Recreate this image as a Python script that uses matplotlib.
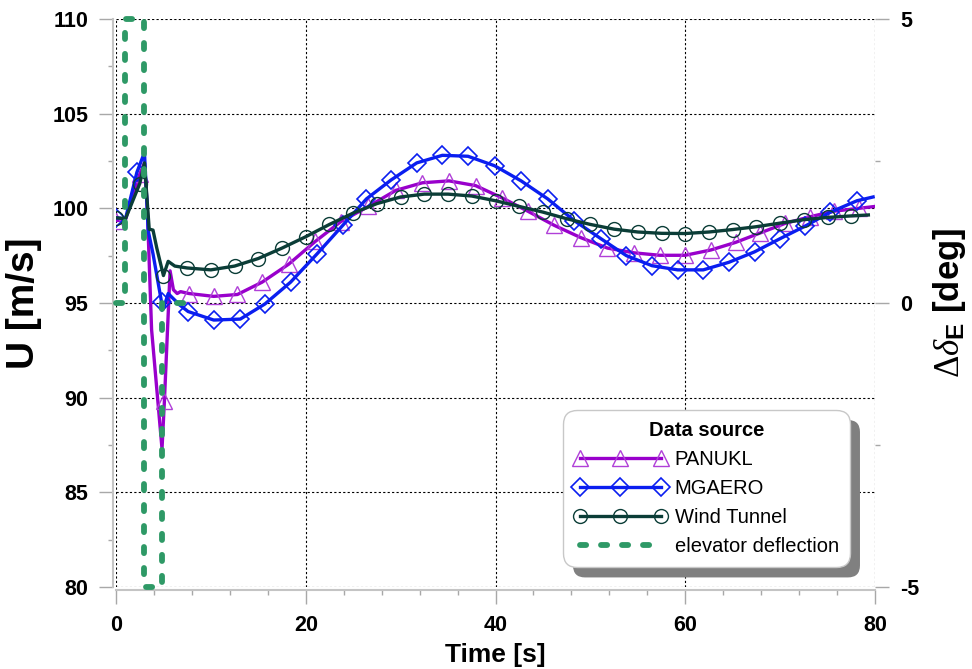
import matplotlib
matplotlib.use('Agg')
import matplotlib.pyplot as plt
from matplotlib.lines import Line2D
from matplotlib.patches import FancyBboxPatch
from matplotlib.ticker import MultipleLocator
from matplotlib.transforms import IdentityTransform

plt.rcParams['font.family'] = ['Liberation Sans', 'DejaVu Sans']
plt.rcParams['axes.unicode_minus'] = False
plt.rcParams['mathtext.fontset'] = 'custom'
plt.rcParams['mathtext.rm'] = 'Liberation Serif'
plt.rcParams['mathtext.it'] = 'Liberation Serif:italic'
plt.rcParams['mathtext.bf'] = 'Liberation Sans:bold'

# PANUKL
t_pan = [0, 1.0, 2.5, 3.0, 3.3, 3.75, 4.85, 5.1, 5.7, 6.05, 6.45, 6.8, 7.7, 10.3, 12.8,
         15.4, 18.2, 21.0, 23.7, 26.6, 29.5, 32.3, 35.1, 37.9, 40.7, 43.4, 46.2, 49.0,
         51.8, 54.6, 57.3, 60.0, 62.7, 65.3, 67.9, 70.5, 73.1, 75.7, 78.3, 80.0]
u_pan = [99.35, 99.4, 101.8, 102.4, 100.0, 93.6, 87.3, 89.8, 96.7, 95.7, 95.5, 95.6, 95.5,
         95.35, 95.45, 96.1, 97.05, 98.25, 99.3, 100.1, 100.95, 101.35, 101.45, 101.2,
         100.55, 99.85, 99.1, 98.45, 97.9, 97.65, 97.52, 97.52, 97.8, 98.2, 98.7, 99.2,
         99.55, 99.85, 100.0, 100.1]
mk_pan = [0, 2.5, 5.1, 7.7, 10.3, 12.8, 15.4, 18.2, 21.0, 23.7, 26.6, 29.5, 32.3, 35.1,
          37.9, 40.7, 43.4, 46.2, 49.0, 51.8, 54.6, 57.3, 60.0, 62.7, 65.3, 67.9, 70.5,
          73.1, 75.7, 78.3]

# MGAERO
t_mg = [0, 1.0, 2.2, 3.0, 3.4, 3.9, 4.8, 5.0, 5.5, 5.9, 6.7, 7.6, 10.3, 13.1, 15.7, 18.4,
        21.2, 23.9, 26.4, 29.0, 31.7, 34.4, 37.1, 39.9, 42.7, 45.5, 48.3, 51.1, 53.8,
        56.5, 59.2, 61.9, 64.6, 67.3, 70.0, 72.6, 75.3, 78.1, 79.8]
u_mg = [99.5, 99.45, 101.9, 102.95, 98.8, 97.6, 95.05, 94.7, 95.5, 95.3, 94.9, 94.55,
        94.1, 94.15, 94.95, 96.1, 97.6, 99.1, 100.5, 101.5, 102.4, 102.8, 102.75, 102.25,
        101.45, 100.5, 99.35, 98.4, 97.5, 96.97, 96.75, 96.75, 97.15, 97.7, 98.4, 99.05,
        99.8, 100.4, 100.6]
mk_mg = [0, 2.2, 4.8, 7.6, 10.3, 13.1, 15.7, 18.4, 21.2, 23.9, 26.4, 29.0, 31.7, 34.4,
         37.1, 39.9, 42.7, 45.5, 48.3, 51.1, 53.8, 56.5, 59.2, 61.9, 64.6, 67.3, 70.0,
         72.6, 75.3, 78.1]

# Wind Tunnel
t_wt = [0, 1.0, 2.5, 3.0, 3.5, 3.9, 4.3, 5.0, 5.5, 6.2, 7.5, 10, 12.5, 15, 17.5, 20,
        22.5, 25, 27.5, 30, 32.5, 35, 37.5, 40, 42.5, 45, 47.5, 50, 52.5, 55, 57.5, 60,
        62.5, 65, 67.5, 70, 72.5, 75, 77.5, 79.3]
u_wt = [99.5, 99.45, 101.3, 102.4, 98.9, 98.85, 97.9, 96.45, 97.2, 96.95, 96.85, 96.75,
        96.95, 97.35, 97.9, 98.5, 99.15, 99.75, 100.25, 100.6, 100.75, 100.75, 100.65,
        100.4, 100.1, 99.8, 99.45, 99.15, 98.9, 98.75, 98.68, 98.67, 98.75, 98.88, 99.03,
        99.22, 99.4, 99.52, 99.6, 99.65]
mk_wt = [0, 2.5, 5.0, 7.5, 10, 12.5, 15, 17.5, 20, 22.5, 25, 27.5, 30, 32.5, 35, 37.5,
         40, 42.5, 45, 47.5, 50, 52.5, 55, 57.5, 60, 62.5, 65, 67.5, 70, 72.5, 75, 77.5]

# elevator deflection [deg]
t_elev = [0, 0.95, 0.95, 2.9, 2.9, 4.9, 4.9, 8.0]
d_elev = [0, 0, 5, 5, -5, -5, 0, 0]

c_pan, c_mg, c_wt, c_el = '#9900cc', '#0a1ef0', '#0b3d37', '#2e9966'
mc_pan = '#b040d8'

fig = plt.figure(figsize=(9.72, 6.69), dpi=100)
ax = fig.add_axes([116 / 972, 1 - 587 / 669, 759 / 972, 568 / 669])
ax2 = ax.twinx()

def idx(ts, marks):
    return [ts.index(m) for m in marks]

st_pan = dict(color=c_pan, lw=2.4, marker='^', ms=12, mfc='none', mec=mc_pan, mew=1.0)
st_mg = dict(color=c_mg, lw=2.4, marker='D', ms=9, mfc='none', mec=c_mg, mew=1.2)
st_wt = dict(color=c_wt, lw=2.4, marker='o', ms=10, mfc='none', mec=c_wt, mew=1.0)
st_el = dict(color=c_el, lw=4.2, ls=(0, (1.05, 2.55)), dash_capstyle='round')

ax.plot(t_pan, u_pan, markevery=idx(t_pan, mk_pan), zorder=3, **st_pan)
ax.plot(t_mg, u_mg, markevery=idx(t_mg, mk_mg), zorder=4, **st_mg)
ax.plot(t_wt, u_wt, markevery=idx(t_wt, mk_wt), zorder=5, **st_wt)
ax2.plot(t_elev, d_elev, clip_on=False, **st_el)

ax.set_xlim(0, 80)
ax.set_ylim(80, 110)
ax2.set_ylim(-5, 5)

ax.xaxis.set_major_locator(MultipleLocator(20))
ax.xaxis.set_minor_locator(MultipleLocator(4))
ax.yaxis.set_major_locator(MultipleLocator(5))
ax.yaxis.set_minor_locator(MultipleLocator(2.5))
ax2.yaxis.set_major_locator(MultipleLocator(5))
ax2.yaxis.set_minor_locator(MultipleLocator(2.5))

ax.grid(True, which='major', color='black', ls=(0, (2, 2)), lw=0.8)
ax.set_axisbelow(True)

for s in ['top', 'right']:
    ax.spines[s].set_visible(False)
for s in ['left', 'bottom']:
    ax.spines[s].set_color('#c4c4c4')
    ax.spines[s].set_linewidth(1.5)
    ax.spines[s].set_position(('outward', 2))
for s in ax2.spines.values():
    s.set_visible(False)

tick_gray = '#a8a8a8'
ax.tick_params(which='major', direction='out', length=10, width=1, color=tick_gray,
               labelsize=15.5, pad=8)
ax.tick_params(which='minor', direction='out', length=3.5, width=1, color=tick_gray)
ax2.tick_params(which='major', direction='out', length=10, width=1, color=tick_gray,
                labelsize=15.5, pad=8)
ax2.tick_params(which='minor', direction='out', length=3.5, width=1, color=tick_gray)
for lab in ax.get_xticklabels() + ax.get_yticklabels() + ax2.get_yticklabels():
    lab.set_fontweight('bold')

ax.set_xlabel('Time [s]', fontsize=19, fontweight='bold')
ax.set_ylabel('U [m/s]', fontsize=28, fontweight='bold')
ax2.set_ylabel(r'$\Delta\delta_{\mathbf{E}}$ [deg]', fontsize=25, fontweight='bold')
ax.xaxis.set_label_coords(0.5, -0.098)
ax.yaxis.set_label_coords(-0.098, 0.5)
ax2.yaxis.set_label_coords(1.074, 0.5)

handles = [
    Line2D([], [], **st_pan),
    Line2D([], [], **st_mg),
    Line2D([], [], **st_wt),
    Line2D([], [], **st_el),
]
labels = ['PANUKL', 'MGAERO', 'Wind Tunnel', 'elevator deflection']
leg = fig.legend(handles, labels, loc='upper left',
                 bbox_to_anchor=(563 / 972, 1 - 410 / 669), borderaxespad=0,
                 title='Data source', title_fontproperties={'weight': 'bold', 'size': 14.5},
                 fontsize=14.5, numpoints=3, handlelength=4.6, handletextpad=0.4,
                 labelspacing=0.5, borderpad=0.55, fancybox=True, framealpha=1)
leg.get_frame().set_edgecolor('#c8c8c8')
leg.get_frame().set_linewidth(1)
leg.get_frame().set_boxstyle('round,pad=0,rounding_size=0.7')
leg.set_zorder(10)

fig.canvas.draw()
bb = leg.get_window_extent()
shadow = FancyBboxPatch((bb.x0 + 10, bb.y0 - 10), bb.width, bb.height,
                        boxstyle='round,pad=0,rounding_size=12',
                        transform=IdentityTransform(), fc='#808080', ec='none', zorder=9)
fig.add_artist(shadow)

fig.savefig('out.png', dpi=100)
